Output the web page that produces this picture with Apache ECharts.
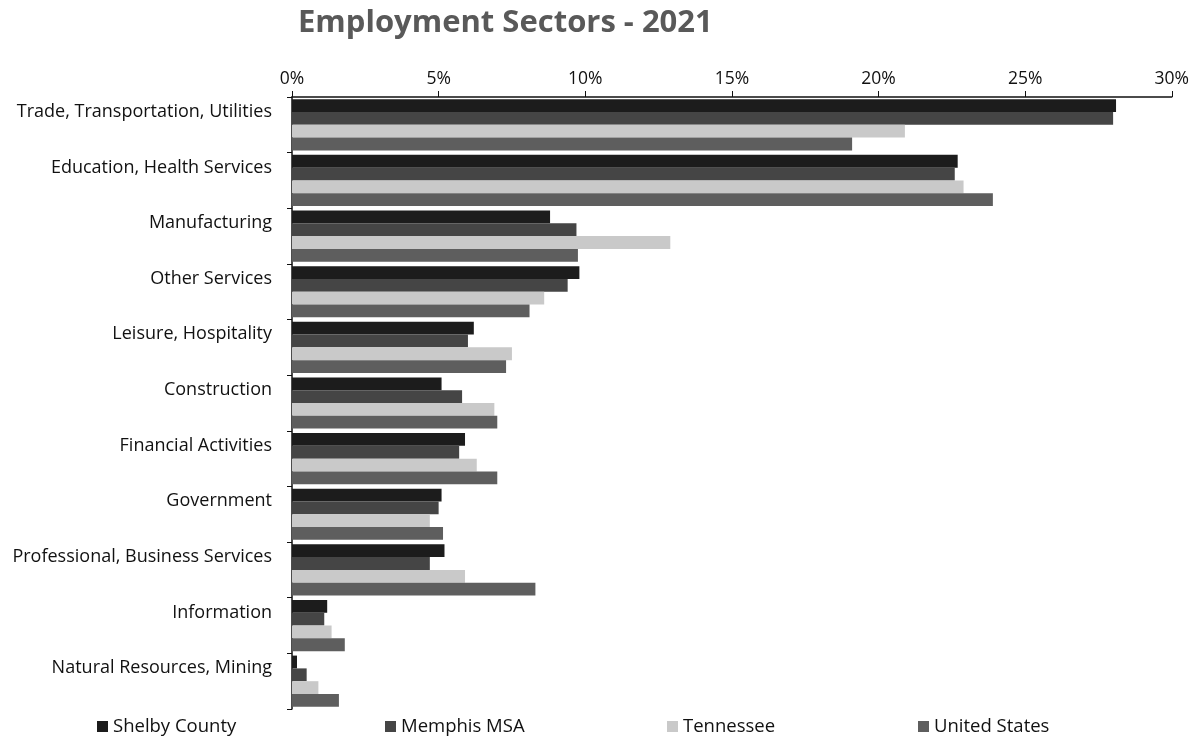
<!DOCTYPE html>
<html>
<head>
<meta charset="utf-8">
<script src="https://cdn.jsdelivr.net/npm/echarts@6/dist/echarts.min.js"></script>
<style>
html,body{margin:0;padding:0;background:#fff;}
#chart{width:1192px;height:740px;}
</style>
</head>
<body>
<div id="chart"></div>
<script>
const categories = [
  "Trade, Transportation, Utilities",
  "Education, Health Services",
  "Manufacturing",
  "Other Services",
  "Leisure, Hospitality",
  "Construction",
  "Financial Activities",
  "Government",
  "Professional, Business Services",
  "Information",
  "Natural Resources, Mining"
];
const shelbyCounty = [28.1, 22.7, 8.8, 9.8, 6.2, 5.1, 5.9, 5.1, 5.2, 1.2, 0.17];
const memphisMSA   = [28.0, 22.6, 9.7, 9.4, 6.0, 5.8, 5.7, 5.0, 4.7, 1.1, 0.5];
const tennessee    = [20.9, 22.9, 12.9, 8.6, 7.5, 6.9, 6.3, 4.7, 5.9, 1.35, 0.9];
const unitedStates = [19.1, 23.9, 9.75, 8.1, 7.3, 7.0, 7.0, 5.15, 8.3, 1.8, 1.6];
const seriesNames = ["Shelby County", "Memphis MSA", "Tennessee", "United States"];
const xTicks = { min: 0, max: 30, interval: 5 };

const colors = ["#1c1c1c", "#454545", "#c9c9c9", "#5e5e5e"];
const font = "Open Sans";
const values = [shelbyCounty, memphisMSA, tennessee, unitedStates];
const legendLefts = [92, 380, 662, 913];

const chart = echarts.init(document.getElementById('chart'));
chart.setOption({
  backgroundColor: '#ffffff',
  animation: false,
  title: {
    text: 'Employment Sectors - 2021',
    left: 293, top: 3,
    textStyle: { fontFamily: font, fontSize: 31, fontWeight: 'bold', color: '#595959' }
  },
  legend: seriesNames.map((n, i) => ({
    data: [n],
    left: legendLefts[i], top: 712,
    itemWidth: 11, itemHeight: 11, itemGap: 4,
    icon: 'rect',
    textStyle: { fontFamily: font, fontSize: 18.5, color: '#111' }
  })),
  grid: { left: 292, right: 20, top: 97, bottom: 31 },
  xAxis: {
    type: 'value', position: 'top',
    min: xTicks.min, max: xTicks.max, interval: xTicks.interval,
    axisLine: { show: true, lineStyle: { color: '#111', width: 1.5 } },
    axisTick: { show: true, length: 6, lineStyle: { color: '#111' } },
    splitLine: { show: false },
    axisLabel: { formatter: v => v + '%', fontFamily: font, fontSize: 17.5, color: '#111', margin: 9 }
  },
  yAxis: {
    type: 'category', data: categories, inverse: true,
    axisLine: { show: true, lineStyle: { color: '#111', width: 1.5 } },
    axisTick: { show: true, length: 5, lineStyle: { color: '#111' } },
    axisLabel: { fontFamily: font, fontSize: 18, color: '#111', margin: 20, verticalAlign: 'bottom', padding: [0,0,4,0] }
  },
  series: seriesNames.map((n, i) => ({
    name: n, type: 'bar', data: values[i],
    barGap: '0%', barCategoryGap: '8%',
    itemStyle: { color: colors[i] }
  }))
});
</script>
</body>
</html>
